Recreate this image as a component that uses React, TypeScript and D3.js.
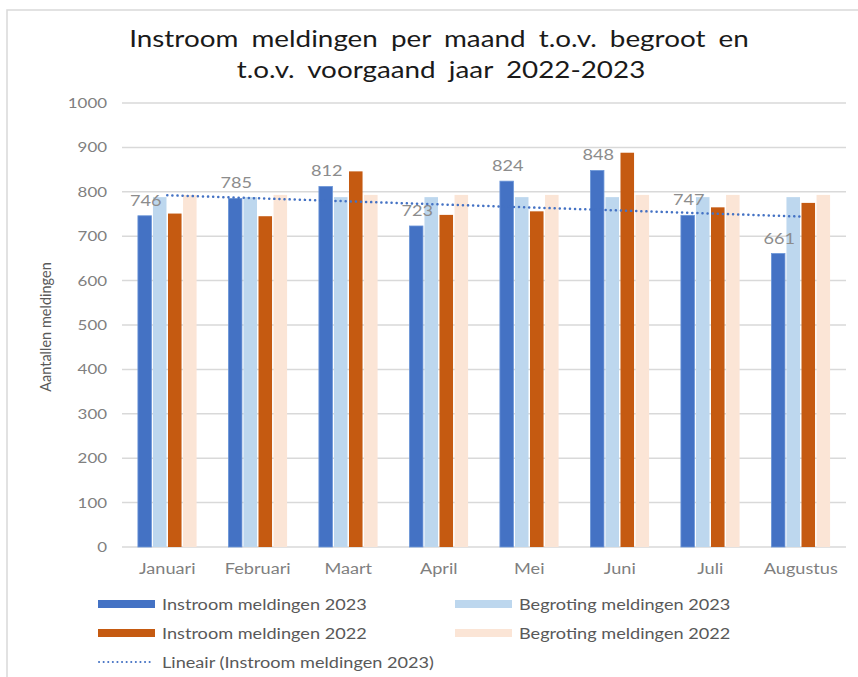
import * as d3 from 'd3'
import { useEffect, useRef } from 'react'

const months = ['Januari', 'Februari', 'Maart', 'April', 'Mei', 'Juni', 'Juli', 'Augustus']
const instroom2023 = [746, 785, 812, 723, 824, 848, 747, 661]
const begroting2023 = [788, 788, 788, 788, 788, 788, 788, 788]
const instroom2022 = [751, 745, 846, 748, 756, 888, 765, 775]
const begroting2022 = [793, 793, 793, 793, 793, 793, 793, 793]
const seriesNames = [
  'Instroom meldingen 2023',
  'Begroting meldingen 2023',
  'Instroom meldingen 2022',
  'Begroting meldingen 2022',
]
const seriesColors = ['#4472C4', '#BDD7EE', '#C55A11', '#FBE5D6']
const yTicks = [0, 100, 200, 300, 400, 500, 600, 700, 800, 900, 1000]
const trendName = 'Lineair (Instroom meldingen 2023)'

const FONT = 'Lato, "Open Sans", sans-serif'
// the source picture is stretched sideways, so text gets a horizontal scale
const SX = 1.21

const App = () => {
  const ref = useRef<SVGSVGElement | null>(null)

  useEffect(() => {
    if (!ref.current) return
    const svg = d3.select(ref.current)
    svg.selectAll('*').remove()

    const left = 122
    const right = 846
    const top = 103
    const bottom = 547

    const put = (
      g: d3.Selection<any, any, any, any>,
      x: number,
      y: number,
      txt: string,
      size: number,
      fill: string,
      anchor = 'start'
    ) =>
      g
        .append('text')
        .attr('transform', `translate(${x},${y}) scale(${SX},1)`)
        .attr('text-anchor', anchor)
        .attr('font-family', FONT)
        .attr('font-size', size)
        .attr('fill', fill)
        .text(txt)

    // chart frame
    svg
      .append('rect')
      .attr('x', 7)
      .attr('y', 10)
      .attr('width', 880)
      .attr('height', 700)
      .attr('fill', '#fff')
      .attr('stroke', '#d9d9d9')
      .attr('stroke-width', 1.5)

    // title
    put(svg, 439, 47, 'Instroom meldingen per maand t.o.v. begroot en', 23, '#1a1a1a', 'middle').style(
      'word-spacing',
      '5px'
    )
    put(svg, 441, 78, 't.o.v. voorgaand jaar 2022-2023', 23, '#1a1a1a', 'middle').style('word-spacing', '5px')

    const x0 = d3
      .scaleBand<string>()
      .domain(months)
      .range([left, right])
      .paddingInner(0.335)
      .paddingOuter(0.1675)
    const x1 = d3
      .scaleBand<number>()
      .domain([0, 1, 2, 3])
      .range([0, x0.bandwidth()])
    const y = d3.scaleLinear().domain([0, 1000]).range([bottom, top])

    // grid
    svg
      .append('g')
      .selectAll('line')
      .data(yTicks)
      .join('line')
      .attr('x1', left)
      .attr('x2', right)
      .attr('y1', (d) => y(d))
      .attr('y2', (d) => y(d))
      .attr('stroke', '#d9d9d9')
      .attr('stroke-width', 1.5)

    // y tick labels
    const yl = svg.append('g')
    yTicks.forEach((t) => put(yl, 107, y(t) + 5, String(t), 14, '#808080', 'end'))

    svg
      .append('text')
      .attr('transform', `translate(51,${(top + bottom) / 2 + 2}) rotate(-90)`)
      .attr('text-anchor', 'middle')
      .attr('font-family', FONT)
      .attr('font-size', 14.5)
      .attr('fill', '#595959')
      .text('Aantallen meldingen')

    // bars
    const allSeries = [instroom2023, begroting2023, instroom2022, begroting2022]
    const groups = svg
      .append('g')
      .selectAll('g')
      .data(months)
      .join('g')
      .attr('transform', (m) => `translate(${x0(m)},0)`)
    groups
      .selectAll('rect')
      .data((m) => allSeries.map((s, k) => ({ k, v: s[months.indexOf(m)] })))
      .join('rect')
      .attr('x', (d) => (x1(d.k) as number) + 0.75)
      .attr('width', x1.bandwidth() - 1.5)
      .attr('y', (d) => y(d.v))
      .attr('height', (d) => bottom - y(d.v))
      .attr('fill', (d) => seriesColors[d.k])
      .attr('stroke', (d) => (d.k === 0 ? '#6c96d8' : 'none'))
      .attr('stroke-width', 0.8)

    // data labels for 2023 instroom
    const dl = svg.append('g')
    instroom2023.forEach((v, i) =>
      put(
        dl,
        (x0(months[i]) as number) + (x1(0) as number) + x1.bandwidth() / 2 + 1,
        y(v) - 10,
        String(v),
        15,
        '#8c8c8c',
        'middle'
      )
    )

    // linear trendline
    const xs = instroom2023.map((_, i) => i + 1)
    const mx = d3.mean(xs) as number
    const my = d3.mean(instroom2023) as number
    const slope =
      d3.sum(xs, (xv, i) => (xv - mx) * (instroom2023[i] - my)) / d3.sum(xs, (xv) => (xv - mx) ** 2)
    const trend = xs.map((xv) => my + slope * (xv - mx))
    const line = d3
      .line<number>()
      .x((d, i) => (x0(months[i]) as number) + x0.bandwidth() / 2)
      .y((d) => y(d))
    svg
      .append('path')
      .datum(trend)
      .attr('d', line)
      .attr('fill', 'none')
      .attr('stroke', '#4472C4')
      .attr('stroke-width', 2.5)
      .attr('stroke-linecap', 'round')
      .attr('stroke-dasharray', '0.1,5')

    // category labels
    const cl = svg.append('g')
    months.forEach((m) => put(cl, (x0(m) as number) + x0.bandwidth() / 2, 574, m, 15, '#7f7f7f', 'middle'))

    // legend
    const legendItems = [
      { name: seriesNames[0], color: seriesColors[0], col: 0, row: 0 },
      { name: seriesNames[1], color: seriesColors[1], col: 1, row: 0 },
      { name: seriesNames[2], color: seriesColors[2], col: 0, row: 1 },
      { name: seriesNames[3], color: seriesColors[3], col: 1, row: 1 },
    ]
    const colX = [98, 455]
    const rowY = [604, 633, 662]
    const lg = svg.append('g')
    legendItems.forEach((it) => {
      lg.append('rect')
        .attr('x', colX[it.col])
        .attr('y', rowY[it.row] - 4)
        .attr('width', 57)
        .attr('height', 8)
        .attr('fill', it.color)
      put(lg, colX[it.col] + 64, rowY[it.row] + 5.5, it.name, 15, '#595959')
    })
    lg.append('line')
      .attr('x1', 99)
      .attr('x2', 152)
      .attr('y1', rowY[2])
      .attr('y2', rowY[2])
      .attr('stroke', '#4472C4')
      .attr('stroke-width', 2)
      .attr('stroke-linecap', 'round')
      .attr('stroke-dasharray', '0.1,4.5')
    put(lg, 162, rowY[2] + 5.5, trendName, 15, '#595959')
  }, [])

  return (
    <svg
      ref={ref}
      width={858}
      height={677}
      style={{ position: 'absolute', left: 0, top: 0, background: '#fff' }}
    />
  )
}

export default App
